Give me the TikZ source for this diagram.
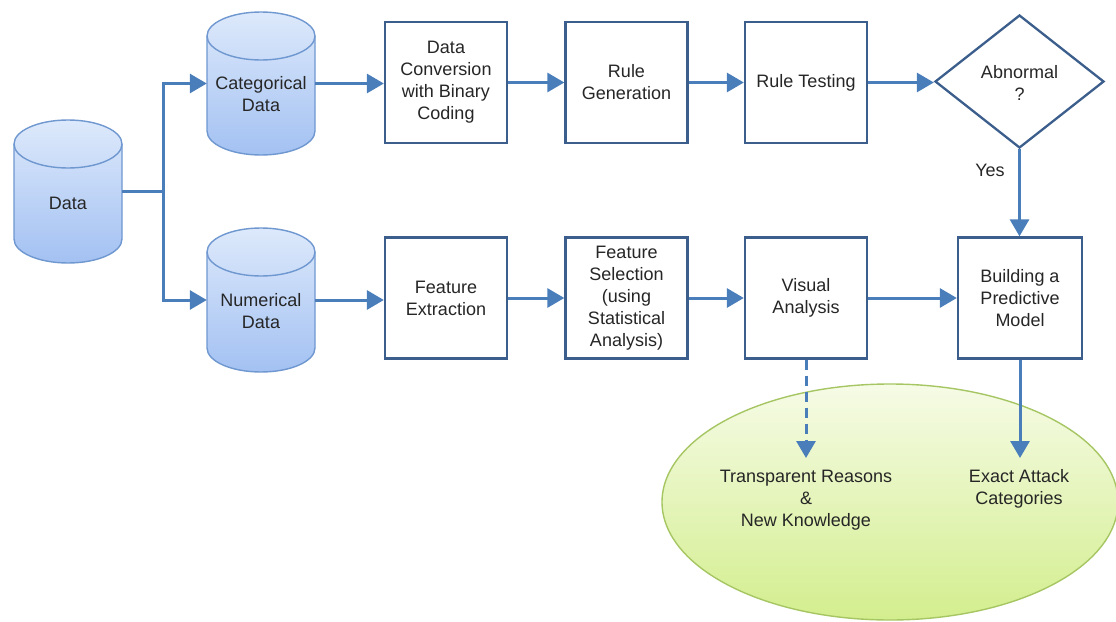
\documentclass[tikz,border=0pt]{standalone}
\usepackage{fontspec}
\setmainfont{Liberation Sans}
\usetikzlibrary{arrows.meta,shapes.geometric}
\definecolor{conn}{HTML}{4A7EBB}
\definecolor{boxline}{HTML}{3B5E8C}
\definecolor{cylline}{HTML}{6F97D0}
\definecolor{cyltop}{HTML}{DDE9FB}
\definecolor{cylbot}{HTML}{A3C1F2}
\definecolor{elltop}{HTML}{F6FBE6}
\definecolor{ellbot}{HTML}{D3EE8E}
\definecolor{ellline}{HTML}{A6C663}
\definecolor{txt}{HTML}{262626}
\newcommand\drawcyl[3]{%
  \path[draw=cylline,line width=1.4pt,top color=cyltop,bottom color=cylbot]
    (#1-54,#2+24) arc[start angle=180,end angle=360,x radius=54,y radius=24]
    -- (#1+54,#3-24) arc[start angle=0,end angle=180,x radius=54,y radius=24] -- cycle;
  \draw[cylline,line width=1.4pt] (#1-54,#2+24) arc[start angle=180,end angle=0,x radius=54,y radius=24];
}
\tikzset{
  lbl/.style={text=txt,font=\fontsize{18}{22}\selectfont,align=center,inner sep=1pt},
  cylnode/.style={minimum width=108pt,inner sep=0pt},
  stepbox/.style={draw=boxline,line width=2.3pt,fill=white,minimum width=122pt,minimum height=121pt,inner sep=2pt,lbl},
  arr/.style={conn,line width=3pt,-{Triangle[length=17pt,width=19pt]}},
  plain/.style={conn,line width=3pt},
}
\begin{document}
\begin{tikzpicture}[x=1pt,y=-1pt]
\useasboundingbox (0,0) rectangle (1116,621);

% result ellipse
\path[draw=ellline,line width=1.4pt,top color=elltop,bottom color=ellbot]
  (890,502) ellipse[x radius=228,y radius=118];
\node[inner sep=0pt] (ell) at (890,502) {};

% cylinders
\drawcyl{68}{120}{263}
\node[cylnode,minimum height=143pt] (data) at (68,191.5) {};
\node[lbl] at (68,203) {Data};
\drawcyl{261}{12}{155}
\node[cylnode,minimum height=143pt] (cat) at (261,83.5) {};
\node[lbl] at (261,94) {Categorical\\Data};
\drawcyl{261}{228}{372}
\node[cylnode,minimum height=144pt] (num) at (261,300) {};
\node[lbl] at (261,311) {Numerical\\Data};

% top row
\node[stepbox] (b1) at (446,82.5) {Data\\Conversion\\with Binary\\Coding};
\node[stepbox] (b2) at (626.5,82.5) {Rule\\Generation};
\node[stepbox] (b3) at (806,82.5) {Rule Testing};
\node[draw=boxline,line width=2.3pt,fill=white,diamond,minimum width=169pt,minimum height=133pt,inner sep=0pt] (dia) at (1019.5,81.5) {};
\node[lbl] at (1019.5,83) {Abnormal\\?};

% bottom row
\node[stepbox] (b4) at (446,298) {Feature\\Extraction};
\node[stepbox] (b5) at (626.5,298) {Feature\\Selection\\(using\\Statistical\\Analysis)};
\node[stepbox] (b6) at (806,298) {Visual\\Analysis};
\node[stepbox,minimum width=124pt] (b7) at (1020,298) {Building a\\Predictive\\Model};

% outputs
\node[lbl] (t1) at (806,500) {Transparent Reasons\\\&\\New Knowledge};
\node[lbl] (t2) at (1019,489) {Exact Attack\\Categories};
\node[lbl] (yes) at (990,170) {Yes};

% connectors
\coordinate (br) at (163,191.5);
\draw[plain] (data.east) -- (br);
\draw[arr] (br) |- (cat.west);
\draw[arr] (br) |- (num.west);
\draw[arr] (cat.east) -- (cat.east -| b1.west);
\draw[arr] (b1) -- (b2);
\draw[arr] (b2) -- (b3);
\draw[arr] (b3.east) -- (b3.east -| dia.west);
\draw[arr] (dia.south) -- (dia.south |- b7.north);
\draw[arr] (num.east) -- (num.east -| b4.west);
\draw[arr] (b4) -- (b5);
\draw[arr] (b5) -- (b6);
\draw[arr] (b6) -- (b7);
\coordinate (e1) at (806,458);
\coordinate (e2) at (1020,458);
\draw[arr,dashed,dash pattern=on 10pt off 6pt] (b6.south) -- (e1);
\draw[arr] (b7.south) -- (e2);
\end{tikzpicture}
\end{document}
